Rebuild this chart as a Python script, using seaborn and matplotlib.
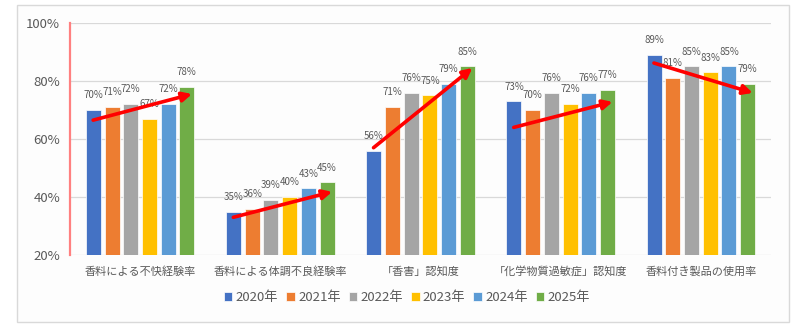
import matplotlib
matplotlib.use("Agg")
import matplotlib.pyplot as plt
from matplotlib.patches import Rectangle
import seaborn as sns
import pandas as pd

# Survey items and yearly rates (%)
categories = [
    "香料による不快経験率",
    "香料による体調不良経験率",
    "「香害」認知度",
    "「化学物質過敏症」認知度",
    "香料付き製品の使用率",
]
years = ["2020年", "2021年", "2022年", "2023年", "2024年", "2025年"]
rate_2020 = [70, 35, 56, 73, 89]
rate_2021 = [71, 36, 71, 70, 81]
rate_2022 = [72, 39, 76, 76, 85]
rate_2023 = [67, 40, 75, 72, 83]
rate_2024 = [72, 43, 79, 76, 85]
rate_2025 = [78, 45, 85, 77, 79]
y_ticks = [20, 40, 60, 80, 100]

# Hand-drawn trend arrows: (start value, end value) per item
trend_start = [66.5, 33.0, 57.0, 64.0, 86.2]
trend_end = [75.5, 41.8, 84.5, 72.8, 75.9]

colors = ["#4472C4", "#ED7D31", "#A5A5A5", "#FFC000", "#5B9BD5", "#70AD47"]

series = [rate_2020, rate_2021, rate_2022, rate_2023, rate_2024, rate_2025]
rows = []
for yr, vals in zip(years, series):
    for cat, v in zip(categories, vals):
        rows.append({"category": cat, "year": yr, "value": v})
df = pd.DataFrame(rows)

sns.set_style("white")
plt.rcParams["font.family"] = ["Noto Sans CJK JP", "DejaVu Sans"]
text_gray = "#595959"

fig = plt.figure(figsize=(8, 3.25), dpi=100)
fig.patch.set_facecolor("white")
fig.patches.append(Rectangle((17 / 800, 3 / 325), (789 - 17) / 800, (322 - 5) / 325,
                             transform=fig.transFigure, fill=True,
                             facecolor="#FDFDFD", edgecolor="#D9D9D9", lw=1, zorder=-5))

ax = fig.add_axes([70 / 800, 1 - 255 / 325, (771 - 70) / 800, (255 - 23) / 325])
ax.set_zorder(2)
ax.set_facecolor("none")

sns.barplot(data=df, x="category", y="value", hue="year", order=categories,
            hue_order=years, palette=colors, saturation=1, width=0.8, gap=0.2,
            edgecolor="white", linewidth=0.5, ax=ax, zorder=3, legend=True)

ax.set_ylim(20, 100)
ax.set_xlim(-0.5, len(categories) - 0.5)
ax.set_yticks(y_ticks)
ax.set_yticklabels([f"{t}%" for t in y_ticks], fontsize=9.5, color=text_gray)
ax.tick_params(axis="y", length=0, pad=7)
ax.tick_params(axis="x", length=0, pad=8, labelsize=8, labelcolor=text_gray)
ax.set_xlabel("")
ax.set_ylabel("")
ax.grid(axis="y", color="#D9D9D9", lw=0.9, zorder=0)
ax.grid(axis="x", visible=False)
ax.set_axisbelow(True)
for side in ["top", "right", "bottom"]:
    ax.spines[side].set_visible(False)
ax.spines["left"].set_color("#FF8080")
ax.spines["left"].set_linewidth(1.6)

for cont, vals in zip(ax.containers, series):
    ax.bar_label(cont, labels=[f"{v}%" for v in vals], padding=7,
                 fontsize=7, color=text_gray, zorder=4)

for i, (s, e) in enumerate(zip(trend_start, trend_end)):
    ax.annotate("", xy=(i + 0.37, e), xytext=(i - 0.335, s),
                arrowprops=dict(arrowstyle="-|>", color="#FF0000", lw=2.6,
                                mutation_scale=14, shrinkA=0, shrinkB=0),
                zorder=5)

handles, labels = ax.get_legend_handles_labels()
ax.legend_.remove()
fig.legend(handles, labels, loc="center", bbox_to_anchor=(407 / 800, 1 - 298 / 325),
           ncol=6, frameon=False, fontsize=9.5, handlelength=0.65, handleheight=0.65,
           handletextpad=0.25, columnspacing=0.6, labelcolor=text_gray)

fig.savefig("out.png", dpi=100)
